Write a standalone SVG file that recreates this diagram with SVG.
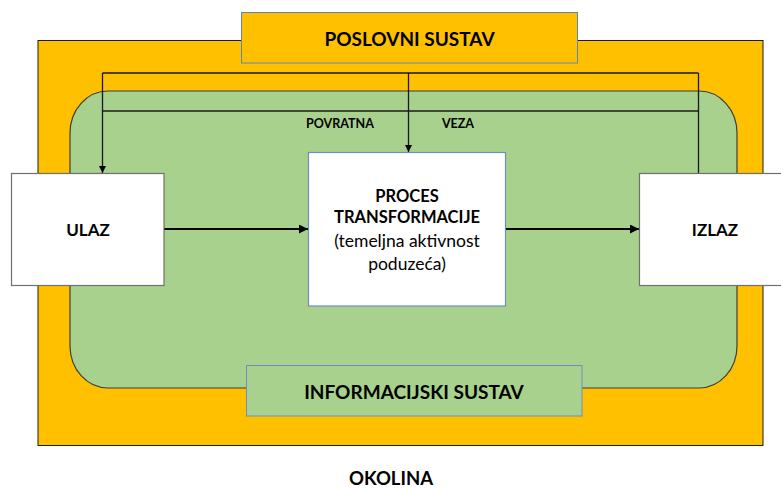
<svg xmlns="http://www.w3.org/2000/svg" width="781" height="489" viewBox="0 0 781 489">
<defs>
<style>
.t{font-family:Lato,"Open Sans","Liberation Sans",sans-serif;font-weight:bold;fill:#000;text-anchor:middle;dominant-baseline:central}
.n{font-weight:normal}
.ln{fill:none;stroke:#1a1a1a;stroke-width:1.3}
.thick{fill:none;stroke:#000;stroke-width:2}
</style>
<marker id="ah" viewBox="0 0 10 10" refX="10" refY="5" markerWidth="7" markerHeight="7" markerUnits="userSpaceOnUse" orient="auto">
<path d="M0,0 L10,5 L0,10 z" fill="#000"/>
</marker>
<marker id="ah2" viewBox="0 0 10 10" refX="10" refY="5" markerWidth="9" markerHeight="9" markerUnits="userSpaceOnUse" orient="auto">
<path d="M0,0 L10,5 L0,10 z" fill="#000"/>
</marker>
</defs>
<rect width="781" height="489" fill="#fff"/>
<g id="okolina">
<rect x="38" y="40.5" width="725" height="405" fill="#FFC000" stroke="#1a1a1a" stroke-width="1"/>
<text class="t" x="391" y="478" font-size="18.5">OKOLINA</text>
</g>
<g id="poslovni-sustav">
<rect x="241.5" y="12.5" width="336" height="50.5" fill="#FFC000" stroke="#5E84B4" stroke-width="1"/>
<text class="t" x="409.5" y="38.5" font-size="19">POSLOVNI SUSTAV</text>
</g>
<g id="informacijski-sustav-bg">
<rect x="70" y="91" width="667" height="297" rx="38" ry="42" fill="#A9D18E" stroke="#3d3d3d" stroke-width="1.2"/>
</g>
<g id="connectors">
<polyline class="ln" points="102.5,73 698.5,73"/>
<polyline class="ln" points="102.5,111 698.5,111"/>
<line class="ln" x1="102.5" y1="73" x2="102.5" y2="173" marker-end="url(#ah)"/>
<line class="ln" x1="408.5" y1="73" x2="408.5" y2="152" marker-end="url(#ah)"/>
<line class="ln" x1="698.5" y1="73" x2="698.5" y2="173"/>
<line class="thick" x1="164" y1="229" x2="308" y2="229" marker-end="url(#ah2)"/>
<line class="thick" x1="505" y1="229" x2="639" y2="229" marker-end="url(#ah2)"/>
<text class="t" x="340" y="123" font-size="12.5">POVRATNA</text>
<text class="t" x="458" y="123" font-size="12.5">VEZA</text>
</g>
<g id="ulaz">
<rect x="11.5" y="173.5" width="152.5" height="112" fill="#fff" stroke="#6f6f6f" stroke-width="1.2"/>
<text class="t" x="88" y="229" font-size="17">ULAZ</text>
</g>
<g id="proces">
<rect x="308.5" y="152.5" width="197" height="153.5" fill="#fff" stroke="#6D8EBF" stroke-width="1.2"/>
<text class="t" x="407" y="196" font-size="16.5">PROCES</text>
<text class="t" x="407" y="217" font-size="16.5">TRANSFORMACIJE</text>
<text class="t n" x="407" y="240" font-size="17.5">(temeljna aktivnost</text>
<text class="t n" x="407" y="263" font-size="17.5">poduzeća)</text>
</g>
<g id="izlaz">
<rect x="639.5" y="173.5" width="150" height="112" fill="#fff" stroke="#6f6f6f" stroke-width="1.2"/>
<text class="t" x="715" y="229" font-size="17">IZLAZ</text>
</g>
<g id="informacijski-sustav">
<rect x="246.5" y="365.5" width="335.5" height="50.5" fill="#A9D18E" stroke="#6D8EBF" stroke-width="1"/>
<text class="t" x="414" y="391" font-size="19">INFORMACIJSKI SUSTAV</text>
</g>
</svg>
